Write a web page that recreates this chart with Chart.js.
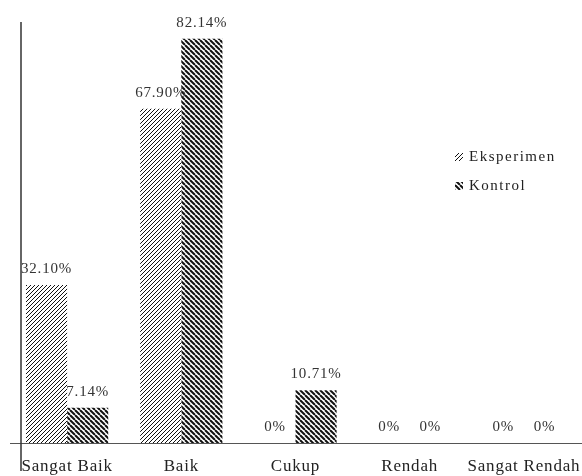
<!DOCTYPE html>
<html>
<head>
<meta charset="utf-8">
<script src="https://cdn.jsdelivr.net/npm/chart.js@4/dist/chart.umd.min.js"></script>
<style>
  html, body { margin: 0; padding: 0; background: #fff; }
  #wrap { width: 582px; height: 476px; position: relative; }
</style>
</head>
<body>
<div id="wrap"><canvas id="chart"></canvas></div>
<script>
const categories = ['Sangat Baik', 'Baik', 'Cukup', 'Rendah', 'Sangat Rendah'];
const eksperimen = [32.10, 67.90, 0, 0, 0];
const kontrol = [7.14, 82.14, 10.71, 0, 0];
const seriesNames = ['Eksperimen', 'Kontrol'];

// diagonal hatch tile, dir 1 = "/", -1 = "\"
function hatch(size, width, dir) {
    const c = document.createElement('canvas');
    c.width = size; c.height = size;
    const g = c.getContext('2d');
    g.fillStyle = '#fff';
    g.fillRect(0, 0, size, size);
    g.strokeStyle = '#111';
    g.lineWidth = width;
    for (let k = -1; k <= 2; k++) {
        g.beginPath();
        if (dir > 0) {
            g.moveTo(k * size, 0);
            g.lineTo(k * size - size, size);
        } else {
            g.moveTo(k * size, 0);
            g.lineTo(k * size + size, size);
        }
        g.stroke();
    }
    return g.createPattern(c, 'repeat');
}

const fmt = v => v === 0 ? '0%' : v.toFixed(2) + '%';

const spacing = {
    id: 'spacing',
    beforeDraw(chart) {
        chart.ctx.letterSpacing = '0.8px';
    }
};

const valueLabels = {
    id: 'valueLabels',
    afterDatasetsDraw(chart) {
        const ctx = chart.ctx;
        ctx.save();
        ctx.letterSpacing = '0.8px';
        ctx.font = '15px "Liberation Serif", serif';
        ctx.fillStyle = '#333';
        ctx.textAlign = 'center';
        ctx.textBaseline = 'alphabetic';
        chart.data.datasets.forEach((ds, i) => {
            chart.getDatasetMeta(i).data.forEach((el, j) => {
                ctx.fillText(fmt(ds.data[j]), el.x, el.y - 12);
            });
        });
        ctx.restore();
    }
};

const extras = {
    id: 'extras',
    afterDraw(chart) {
        const ctx = chart.ctx;
        ctx.save();
        // vertical axis line
        ctx.strokeStyle = '#333';
        ctx.lineWidth = 1.5;
        ctx.beginPath();
        ctx.moveTo(21, 22);
        ctx.lineTo(21, 471);
        ctx.stroke();
        // legend
        ctx.letterSpacing = '1.5px';
        ctx.font = '15px "Liberation Serif", serif';
        ctx.textBaseline = 'middle';
        const ys = [157, 186];
        chart.data.datasets.forEach((ds, i) => {
            ctx.fillStyle = ds.backgroundColor;
            ctx.fillRect(455, ys[i] - 4, 8, 8);
            ctx.fillStyle = '#222';
            ctx.fillText(ds.label, 469, ys[i]);
        });
        ctx.restore();
    }
};

new Chart(document.getElementById('chart'), {
    type: 'bar',
    data: {
        labels: categories,
        datasets: [
            { label: seriesNames[0], data: eksperimen, backgroundColor: hatch(4, 1, 1) },
            { label: seriesNames[1], data: kontrol, backgroundColor: hatch(5, 2, -1) }
        ]
    },
    options: {
        responsive: true,
        maintainAspectRatio: false,
        animation: false,
        categoryPercentage: 0.72,
        barPercentage: 1.0,
        layout: { padding: { left: 10, right: 1, top: 0, bottom: 0 } },
        plugins: {
            legend: { display: false },
            tooltip: { enabled: false }
        },
        scales: {
            x: {
                grid: { display: false },
                border: { display: true, color: '#555', width: 1 },
                ticks: {
                    color: '#222',
                    padding: 5,
                    maxRotation: 0,
                    autoSkip: false,
                    font: { family: '"Liberation Serif", serif', size: 17 }
                },
                afterFit(s) { s.height = 33; }
            },
            y: {
                display: false,
                min: 0,
                max: 90
            }
        }
    },
    plugins: [spacing, valueLabels, extras]
});
</script>
</body>
</html>
